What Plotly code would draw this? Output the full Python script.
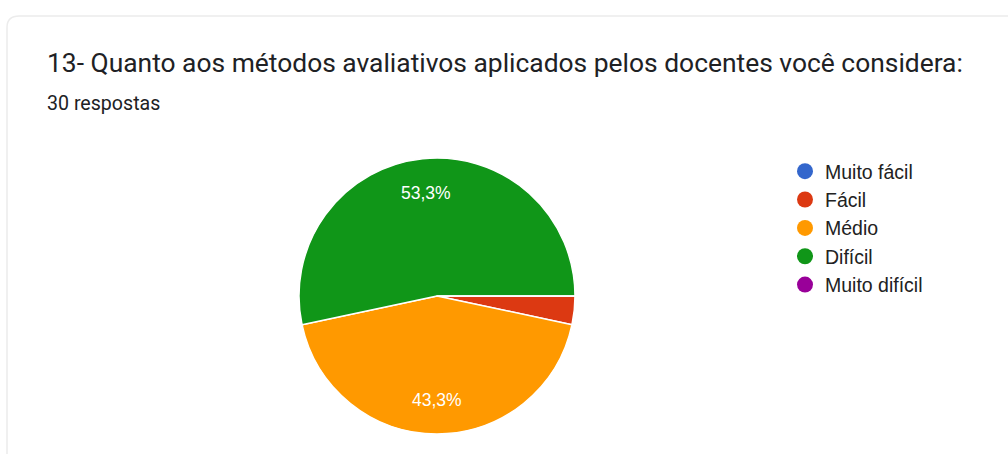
import math
import plotly.graph_objects as go

# ---- data ----
categories = ["Muito fácil", "Fácil", "Médio", "Difícil", "Muito difícil"]
counts = [0, 1, 13, 16, 0]
colors = ["#3366cc", "#dc3912", "#ff9900", "#109618", "#990099"]
title_text = "13- Quanto aos métodos avaliativos aplicados pelos docentes você considera:"
subtitle_text = "30 respostas"

W, H = 1008, 454
total = sum(counts)

fig = go.Figure()

# pie geometry (pixels)
cx, cy, r = 437, 296, 138
fig.add_trace(go.Pie(
    labels=categories,
    values=counts,
    textinfo="none",
    marker=dict(colors=colors, line=dict(color="white", width=1.5)),
    sort=False,
    direction="clockwise",
    rotation=90,
    showlegend=False,
    hoverinfo="label+percent",
    domain=dict(x=[(cx - r) / W, (cx + r) / W], y=[(H - cy - r) / H, (H - cy + r) / H]),
))

# percentage labels placed at slice mid-angles (derived from data)
cum = 0
for c in counts:
    frac = c / total
    if frac >= 0.05:
        mid = (cum + frac / 2) * 2 * math.pi  # clockwise from 3 o'clock
        lx = cx + 0.75 * r * math.cos(mid)
        ly = cy + 0.75 * r * math.sin(mid)
        fig.add_annotation(
            text=f"{frac * 100:.1f}".replace(".", ",") + "%",
            xref="paper", yref="paper", x=lx / W, y=1 - ly / H,
            xanchor="center", yanchor="middle", showarrow=False,
            font=dict(family="Liberation Sans, Arial, sans-serif", size=17.5, color="white"),
        )
    cum += frac

# legend entries with circle markers
for name, col in zip(categories, colors):
    fig.add_trace(go.Scatter(
        x=[None], y=[None], mode="markers", name=name,
        marker=dict(symbol="circle", size=18, color=col),
        showlegend=True,
    ))

# card border (light, rounded corner)
x0, y0 = 7 / W, 1 - 16 / H
fig.add_shape(
    type="path", xref="paper", yref="paper",
    path=f"M {x0} -0.1 L {x0} {y0 - 0.025} Q {x0} {y0} {x0 + 0.012} {y0} L 1.1 {y0}",
    line=dict(color="#ececec", width=1.5),
)

fig.add_annotation(
    text=title_text, xref="paper", yref="paper",
    x=45 / W, y=1 - 63 / H, xanchor="left", yanchor="middle",
    showarrow=False,
    font=dict(family="Roboto, sans-serif", size=26.4, color="#202124"),
)
fig.add_annotation(
    text=subtitle_text, xref="paper", yref="paper",
    x=45 / W, y=1 - 103 / H, xanchor="left", yanchor="middle",
    showarrow=False,
    font=dict(family="Roboto, sans-serif", size=19.6, color="#202124"),
)

fig.update_layout(
    width=W, height=H,
    margin=dict(l=0, r=0, t=0, b=0),
    paper_bgcolor="white",
    plot_bgcolor="white",
    xaxis=dict(visible=False),
    yaxis=dict(visible=False),
    legend=dict(
        x=785 / W, y=1 - 152 / H, xanchor="left", yanchor="top",
        font=dict(family="Liberation Sans, Arial, sans-serif", size=19.5, color="#222222"),
        itemsizing="trace",
        bgcolor="rgba(0,0,0,0)",
        tracegroupgap=0,
    ),
    showlegend=True,
)

fig.write_html(
    "out.html",
    config={"displayModeBar": False},
    post_script="document.body.style.margin='0';document.body.style.overflow='hidden';",
)
